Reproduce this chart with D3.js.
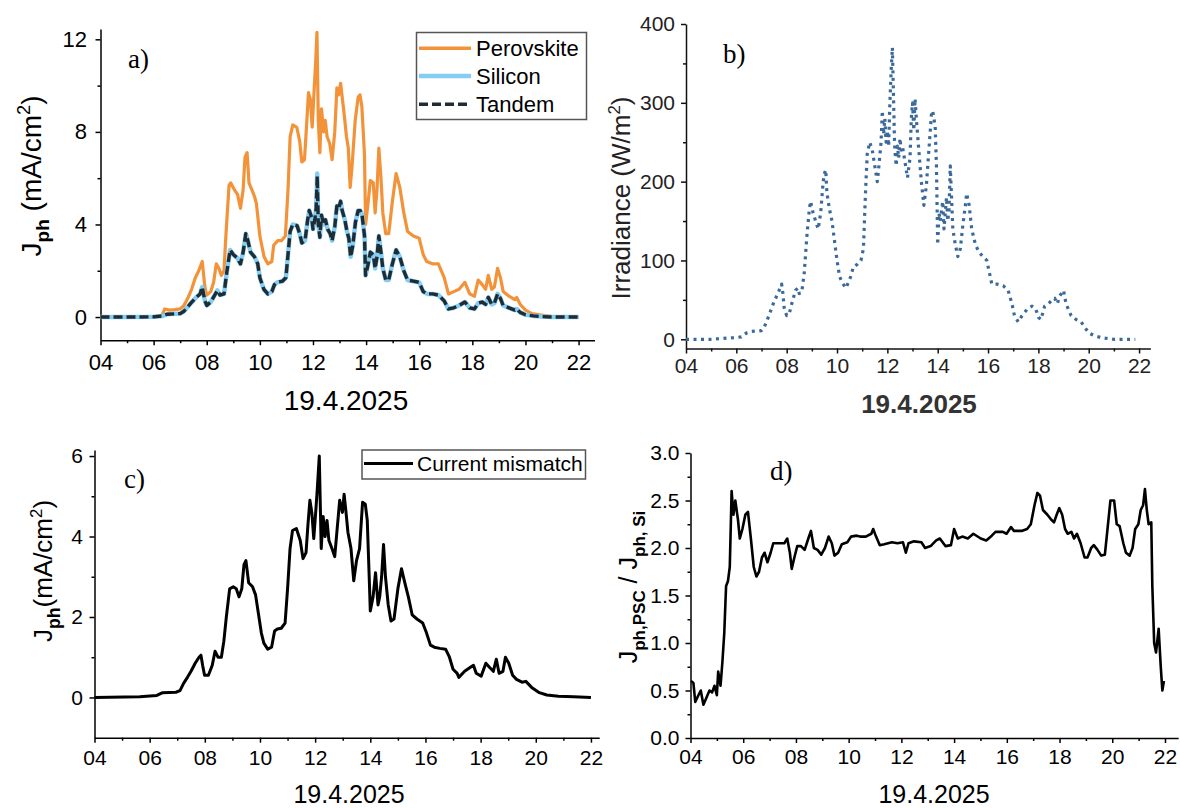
<!DOCTYPE html>
<html>
<head>
<meta charset="utf-8">
<script src="https://cdn.jsdelivr.net/npm/d3@7"></script>
<style>
  html, body { margin: 0; padding: 0; background: #fff; }
  svg { display: block; font-family: "Liberation Sans", Arial, sans-serif; }
</style>
</head>
<body>
<svg id="fig" width="1180" height="808"></svg>
<script>
// ---- Time axis (hours of 19.4.2025) ----
const hourTicks = [4, 6, 8, 10, 12, 14, 16, 18, 20, 22];
const hourLabels = ["04", "06", "08", "10", "12", "14", "16", "18", "20", "22"];
const hourMinor = [5, 7, 9, 11, 13, 15, 17, 19, 21];

// ---- a) photocurrent density, mA/cm2 : [hour, value] ----
const perovskite = [[4,0],[5,0],[6,0.02],[6.3,0.05],[6.42,0.35],[6.6,0.3],[6.8,0.32],[7.0,0.35],[7.14,0.5],[7.3,0.85],[7.43,1.2],[7.57,1.7],[7.7,2.0],[7.83,2.4],[7.93,1.3],[8.0,0.95],[8.15,1.1],[8.26,1.5],[8.36,2.3],[8.46,2.1],[8.55,1.8],[8.65,2.0],[8.72,3.5],[8.84,5.7],[8.9,5.8],[9.04,5.5],[9.16,5.3],[9.27,4.7],[9.37,5.5],[9.44,6.9],[9.52,7.1],[9.59,5.8],[9.7,5.5],[9.8,5.2],[9.87,4.9],[10.0,3.5],[10.16,2.6],[10.3,2.3],[10.45,2.4],[10.52,3.1],[10.67,3.3],[10.81,3.3],[10.96,3.5],[11.06,5.5],[11.14,7.8],[11.24,8.3],[11.39,8.2],[11.5,7.6],[11.58,6.7],[11.68,6.8],[11.76,8.3],[11.83,9.7],[11.9,9.4],[11.97,8.2],[12.03,9.5],[12.1,11.0],[12.15,12.3],[12.2,8.5],[12.26,7.1],[12.32,9.0],[12.4,8.0],[12.46,8.5],[12.53,7.8],[12.63,7.5],[12.72,6.8],[12.82,8.0],[12.9,9.9],[12.97,9.6],[13.04,10.1],[13.11,9.4],[13.19,8.6],[13.26,7.8],[13.33,7.3],[13.4,5.6],[13.47,6.5],[13.59,8.5],[13.7,9.5],[13.77,9.6],[13.84,9.1],[13.94,7.0],[13.98,4.0],[14.08,5.0],[14.16,5.9],[14.27,5.8],[14.34,4.5],[14.41,5.5],[14.48,7.3],[14.56,6.0],[14.63,4.5],[14.74,3.6],[14.85,3.6],[14.99,5.0],[15.13,6.2],[15.27,5.6],[15.42,4.5],[15.56,3.7],[15.78,3.5],[16.0,3.4],[16.15,2.7],[16.28,2.4],[16.5,2.3],[16.72,2.3],[16.94,1.7],[17.1,1.0],[17.3,1.1],[17.5,1.2],[17.72,1.5],[17.9,1.0],[18.08,0.9],[18.22,1.6],[18.37,1.4],[18.5,1.2],[18.6,1.8],[18.73,1.2],[18.83,1.3],[18.95,2.1],[19.06,1.7],[19.16,1.1],[19.38,0.9],[19.6,0.75],[19.67,0.85],[19.8,0.55],[20.0,0.3],[20.24,0.15],[20.53,0.1],[20.96,0.03],[21.4,0],[22,0]];

const silicon = [[4,0],[5,0],[6,0.01],[6.35,0.05],[6.5,0.12],[6.8,0.14],[7.0,0.15],[7.14,0.25],[7.4,0.6],[7.6,0.85],[7.75,1.0],[7.83,1.3],[7.93,0.7],[8.0,0.5],[8.15,0.65],[8.3,0.95],[8.4,1.15],[8.5,0.95],[8.65,1.0],[8.75,1.9],[8.88,2.9],[9.0,2.7],[9.15,2.55],[9.27,2.3],[9.37,2.8],[9.47,3.6],[9.55,3.3],[9.65,2.8],[9.8,2.6],[9.92,2.3],[10.0,1.7],[10.15,1.2],[10.3,1.0],[10.45,1.1],[10.55,1.4],[10.65,1.5],[10.85,1.55],[10.98,1.7],[11.06,2.7],[11.14,3.7],[11.24,4.0],[11.4,3.95],[11.5,3.6],[11.58,3.2],[11.7,3.3],[11.8,4.2],[11.86,4.6],[11.95,4.3],[12.0,3.8],[12.07,4.2],[12.12,4.7],[12.16,6.2],[12.2,4.0],[12.26,3.45],[12.32,4.4],[12.4,4.0],[12.47,4.2],[12.55,3.8],[12.65,3.6],[12.72,3.3],[12.82,3.9],[12.9,4.8],[12.97,4.7],[13.04,5.0],[13.1,4.6],[13.2,4.2],[13.28,3.7],[13.35,3.4],[13.42,2.6],[13.5,3.1],[13.6,4.1],[13.7,4.6],[13.78,4.6],[13.85,4.4],[13.94,3.5],[13.98,1.8],[14.08,2.3],[14.16,2.8],[14.27,2.7],[14.34,2.1],[14.41,2.6],[14.48,3.5],[14.56,2.8],[14.63,2.1],[14.74,1.6],[14.85,1.6],[14.99,2.3],[15.13,2.9],[15.27,2.6],[15.42,2.0],[15.56,1.6],[15.78,1.55],[16.0,1.5],[16.15,1.1],[16.3,1.0],[16.5,1.0],[16.72,0.95],[16.94,0.7],[17.1,0.35],[17.3,0.4],[17.5,0.5],[17.72,0.65],[17.9,0.4],[18.08,0.35],[18.22,0.6],[18.37,0.65],[18.5,0.55],[18.6,0.85],[18.73,0.55],[18.83,0.6],[18.95,1.0],[19.06,0.8],[19.16,0.5],[19.38,0.4],[19.6,0.3],[19.67,0.35],[19.8,0.2],[20.0,0.1],[20.3,0.05],[20.6,0.02],[21,0],[22,0]];

const tandem = [[4,0],[5,0],[6,0.01],[6.35,0.05],[6.5,0.12],[6.8,0.14],[7.0,0.15],[7.14,0.25],[7.4,0.6],[7.6,0.85],[7.75,1.0],[7.83,1.3],[7.93,0.7],[8.0,0.5],[8.15,0.65],[8.3,0.95],[8.4,1.15],[8.5,0.95],[8.65,1.0],[8.75,1.9],[8.88,2.9],[9.0,2.7],[9.15,2.55],[9.27,2.3],[9.37,2.8],[9.47,3.6],[9.55,3.3],[9.65,2.8],[9.8,2.6],[9.92,2.3],[10.0,1.7],[10.15,1.2],[10.3,1.0],[10.45,1.1],[10.55,1.4],[10.65,1.5],[10.85,1.55],[10.98,1.7],[11.06,2.7],[11.14,3.7],[11.24,4.0],[11.4,3.95],[11.5,3.6],[11.58,3.2],[11.7,3.3],[11.8,4.2],[11.86,4.6],[11.95,4.3],[12.0,3.8],[12.07,4.2],[12.12,4.7],[12.16,6.1],[12.2,4.0],[12.26,3.45],[12.32,4.4],[12.4,4.0],[12.47,4.2],[12.55,3.8],[12.65,3.6],[12.72,3.3],[12.82,3.9],[12.9,4.8],[12.97,4.7],[13.04,5.0],[13.1,4.6],[13.2,4.2],[13.28,3.7],[13.35,3.4],[13.42,2.6],[13.5,3.1],[13.6,4.1],[13.7,4.6],[13.78,4.6],[13.85,4.4],[13.94,3.5],[13.98,1.8],[14.08,2.3],[14.16,2.8],[14.27,2.7],[14.34,2.1],[14.41,2.6],[14.48,3.5],[14.56,2.8],[14.63,2.1],[14.74,1.6],[14.85,1.6],[14.99,2.3],[15.13,2.9],[15.27,2.6],[15.42,2.0],[15.56,1.6],[15.78,1.55],[16.0,1.5],[16.15,1.1],[16.3,1.0],[16.5,1.0],[16.72,0.95],[16.94,0.7],[17.1,0.35],[17.3,0.4],[17.5,0.5],[17.72,0.65],[17.9,0.4],[18.08,0.35],[18.22,0.6],[18.37,0.65],[18.5,0.55],[18.6,0.85],[18.73,0.55],[18.83,0.6],[18.95,1.0],[19.06,0.8],[19.16,0.5],[19.38,0.4],[19.6,0.3],[19.67,0.35],[19.8,0.2],[20.0,0.1],[20.3,0.05],[20.6,0.02],[21,0],[22,0]];

// ---- b) irradiance, W/m2 ----
const irradiance = [[4,0],[5,0],[5.9,2],[6.2,3],[6.4,8],[6.6,10],[7.0,11],[7.1,15],[7.2,22],[7.35,35],[7.5,48],[7.65,58],[7.75,66],[7.8,70],[7.85,58],[7.9,40],[8.0,30],[8.1,32],[8.2,45],[8.35,62],[8.45,65],[8.5,58],[8.6,60],[8.7,85],[8.8,130],[8.9,165],[8.95,175],[9.05,160],[9.15,150],[9.25,140],[9.35,160],[9.45,200],[9.5,210],[9.55,215],[9.6,185],[9.7,165],[9.8,150],[9.9,125],[10.0,100],[10.1,80],[10.2,72],[10.35,65],[10.45,72],[10.55,80],[10.65,92],[10.8,95],[10.95,100],[11.05,115],[11.1,160],[11.15,200],[11.2,235],[11.3,250],[11.4,240],[11.5,220],[11.6,200],[11.65,215],[11.75,250],[11.8,290],[11.85,260],[11.9,280],[11.95,250],[12.0,265],[12.05,245],[12.1,300],[12.15,340],[12.2,370],[12.25,300],[12.28,255],[12.3,240],[12.35,220],[12.4,245],[12.45,230],[12.5,255],[12.55,240],[12.6,245],[12.7,225],[12.8,205],[12.9,230],[12.95,280],[13.0,300],[13.05,265],[13.1,305],[13.15,280],[13.25,240],[13.35,200],[13.45,170],[13.55,195],[13.65,240],[13.75,285],[13.8,290],[13.9,270],[13.95,220],[14.0,120],[14.05,160],[14.1,150],[14.2,175],[14.25,140],[14.35,180],[14.4,150],[14.45,165],[14.5,220],[14.55,180],[14.6,140],[14.7,120],[14.8,105],[14.9,115],[15.0,145],[15.1,170],[15.15,185],[15.25,170],[15.35,140],[15.5,120],[15.65,110],[15.8,105],[15.95,100],[16.05,85],[16.15,70],[16.35,70],[16.6,68],[16.8,62],[16.95,45],[17.05,30],[17.2,22],[17.35,30],[17.55,38],[17.75,42],[17.9,38],[18.0,28],[18.1,25],[18.25,42],[18.4,45],[18.55,50],[18.65,52],[18.75,45],[18.85,55],[19.0,62],[19.1,45],[19.3,30],[19.5,25],[19.7,22],[19.85,15],[20.0,8],[20.2,5],[20.5,2],[21.0,0],[21.85,0]];

// ---- c) current mismatch, mA/cm2 ----
const mismatch = [[4,0],[5.64,0.02],[6.26,0.05],[6.47,0.12],[6.95,0.13],[7.1,0.17],[7.23,0.35],[7.37,0.5],[7.5,0.65],[7.65,0.85],[7.79,1.0],[7.86,1.05],[7.92,0.8],[7.99,0.55],[8.13,0.55],[8.27,0.8],[8.37,1.15],[8.48,1.0],[8.6,1.0],[8.69,1.4],[8.78,2.0],[8.9,2.7],[9.03,2.75],[9.14,2.7],[9.24,2.5],[9.34,2.7],[9.42,3.3],[9.49,3.4],[9.59,2.85],[9.73,2.75],[9.84,2.55],[9.94,2.1],[10.05,1.6],[10.14,1.35],[10.28,1.2],[10.42,1.25],[10.53,1.65],[10.63,1.7],[10.77,1.72],[10.91,1.85],[11.0,2.7],[11.09,3.7],[11.18,4.15],[11.32,4.2],[11.46,3.9],[11.56,3.45],[11.67,3.6],[11.74,4.3],[11.81,4.9],[11.88,4.6],[11.95,3.95],[12.02,4.6],[12.08,5.2],[12.15,6.0],[12.22,3.7],[12.29,4.5],[12.36,4.0],[12.43,4.4],[12.5,3.9],[12.61,3.7],[12.71,3.5],[12.8,4.2],[12.89,4.9],[12.99,4.6],[13.05,5.05],[13.12,4.6],[13.19,4.1],[13.3,3.7],[13.4,2.9],[13.5,3.4],[13.61,3.7],[13.72,4.85],[13.82,4.8],[13.89,4.4],[13.96,3.0],[14.0,2.15],[14.1,2.5],[14.19,3.1],[14.28,2.3],[14.34,2.5],[14.41,3.0],[14.48,3.8],[14.55,3.0],[14.65,2.3],[14.75,1.9],[14.86,1.95],[15.0,2.7],[15.13,3.2],[15.27,2.8],[15.38,2.5],[15.52,2.05],[15.69,1.95],[15.9,1.85],[16.04,1.6],[16.18,1.3],[16.32,1.25],[16.52,1.22],[16.73,1.2],[16.87,1.0],[17.0,0.7],[17.15,0.6],[17.21,0.5],[17.42,0.65],[17.63,0.75],[17.74,0.8],[17.84,0.6],[18.02,0.53],[18.19,0.85],[18.32,0.75],[18.46,0.65],[18.57,0.95],[18.67,0.6],[18.81,0.65],[18.9,1.0],[19.02,0.85],[19.16,0.55],[19.3,0.45],[19.5,0.38],[19.64,0.4],[19.85,0.25],[20.13,0.12],[20.4,0.06],[20.82,0.03],[21.37,0.02],[22,0]];

// ---- d) current ratio perovskite / silicon ----
const ratio = [[4.02,0.6],[4.11,0.58],[4.18,0.38],[4.3,0.45],[4.39,0.5],[4.49,0.35],[4.6,0.42],[4.72,0.5],[4.82,0.48],[4.91,0.55],[5.0,0.45],[5.05,0.7],[5.14,0.55],[5.21,0.8],[5.28,1.1],[5.35,1.6],[5.42,1.65],[5.49,1.8],[5.56,2.6],[5.63,2.35],[5.7,2.5],[5.8,2.3],[5.87,2.1],[5.97,2.2],[6.08,2.35],[6.18,2.38],[6.29,2.1],[6.4,1.8],[6.5,1.7],[6.6,1.75],[6.71,1.9],[6.81,1.95],[6.92,1.85],[7.04,1.95],[7.14,2.05],[7.28,2.05],[7.42,2.05],[7.56,2.05],[7.67,2.1],[7.77,1.95],[7.84,1.78],[7.94,1.9],[8.05,2.02],[8.19,2.02],[8.33,1.98],[8.47,2.1],[8.57,2.18],[8.68,2.0],[8.82,1.98],[8.96,1.93],[9.1,2.0],[9.24,2.12],[9.36,2.05],[9.46,1.92],[9.6,1.95],[9.74,2.04],[9.95,2.06],[10.09,2.12],[10.3,2.13],[10.44,2.12],[10.65,2.12],[10.86,2.15],[10.93,2.2],[11.04,2.12],[11.18,2.03],[11.35,2.04],[11.64,2.06],[11.85,2.05],[12.06,2.06],[12.17,1.95],[12.27,2.05],[12.48,2.07],[12.76,2.06],[12.9,2.0],[13.11,2.02],[13.32,2.08],[13.46,2.1],[13.67,2.02],[13.88,2.03],[14.0,2.2],[14.14,2.1],[14.31,2.12],[14.52,2.1],[14.73,2.15],[15.01,2.1],[15.22,2.08],[15.43,2.13],[15.57,2.17],[15.85,2.17],[15.99,2.15],[16.16,2.22],[16.27,2.18],[16.56,2.18],[16.77,2.2],[16.91,2.25],[17.05,2.45],[17.16,2.58],[17.26,2.55],[17.37,2.4],[17.54,2.35],[17.68,2.3],[17.79,2.27],[17.89,2.35],[17.99,2.42],[18.1,2.35],[18.21,2.2],[18.31,2.15],[18.45,2.17],[18.55,2.1],[18.66,2.15],[18.8,2.05],[18.95,1.9],[19.06,1.9],[19.2,2.0],[19.3,2.03],[19.44,1.98],[19.58,1.92],[19.72,1.93],[19.82,2.2],[19.93,2.5],[20.07,2.5],[20.17,2.25],[20.28,2.23],[20.42,2.05],[20.52,1.95],[20.66,1.92],[20.77,2.0],[20.87,2.2],[20.99,2.25],[21.08,2.4],[21.17,2.45],[21.24,2.62],[21.31,2.4],[21.38,2.25],[21.48,2.27],[21.52,1.6],[21.59,1.0],[21.66,0.9],[21.76,1.15],[21.84,0.75],[21.9,0.5],[21.96,0.6]];

// ---- y-axis ticks per panel ----
const jphTicksA = [0, 4, 8, 12], jphMinorA = [2, 6, 10];
const irrTicks = [0, 100, 200, 300, 400], irrMinor = [50, 150, 250, 350];
const jphTicksC = [0, 2, 4, 6], jphMinorC = [1, 3, 5];
const ratioTicks = [0, 0.5, 1, 1.5, 2, 2.5, 3], ratioMinor = [0.25, 0.75, 1.25, 1.75, 2.25, 2.75];

const svg = d3.select("#fig");
const SANS = '"Liberation Sans", Arial, sans-serif';
const SERIF = '"Liberation Serif", "Times New Roman", serif';

// Build one panel: scales, axes with major/minor ticks, returns scales.
function panel(o) {
  const x = d3.scaleLinear().domain(o.xDomain).range(o.xRange);
  const y = d3.scaleLinear().domain(o.yDomain).range(o.yRange);
  const g = svg.append("g");
  const axisY0 = o.yRange[0], axisX0 = o.xRange[0];

  const style = sel => {
    sel.selectAll("path, line").attr("stroke", o.axisColor).attr("stroke-width", 1.5);
    sel.selectAll("text").attr("fill", o.textColor).style("font-family", SANS).style("font-size", o.tickFont + "px");
  };

  g.append("g").attr("transform", `translate(0,${axisY0})`)
    .call(d3.axisBottom(x).tickValues(hourMinor).tickSize(3).tickSizeOuter(0).tickFormat(""))
    .call(s => s.select(".domain").remove()).call(style);
  g.append("g").attr("transform", `translate(0,${axisY0})`)
    .call(d3.axisBottom(x).tickValues(hourTicks).tickSize(5).tickSizeOuter(0).tickPadding(o.xPad)
      .tickFormat((d, i) => hourLabels[i]))
    .call(style);

  g.append("g").attr("transform", `translate(${axisX0},0)`)
    .call(d3.axisLeft(y).tickValues(o.yMinor).tickSize(3).tickSizeOuter(0).tickFormat(""))
    .call(s => s.select(".domain").remove()).call(style);
  g.append("g").attr("transform", `translate(${axisX0},0)`)
    .call(d3.axisLeft(y).tickValues(o.yTicks).tickSize(5).tickSizeOuter(0).tickPadding(o.yPad)
      .tickFormat(o.yFormat))
    .call(style);

  return { x, y, g };
}

function drawLine(p, data, attrs) {
  const line = d3.line().x(d => p.x(d[0])).y(d => p.y(d[1]));
  const path = p.g.append("path").datum(data).attr("d", line).attr("fill", "none")
    .attr("stroke-linejoin", "round");
  Object.entries(attrs).forEach(([k, v]) => path.attr(k, v));
  return path;
}

// rotated y title made of tspans: [text, kind] with kind "", "sub", "sup"
function yTitle(x, y, size, parts, color, weight) {
  const t = svg.append("text").attr("transform", `translate(${x},${y}) rotate(-90)`)
    .attr("text-anchor", "middle").style("font-family", SANS).style("font-size", size + "px")
    .attr("fill", color).style("font-weight", weight || "normal");
  let shift = 0;
  parts.forEach(([txt, kind]) => {
    const ts = t.append("tspan").text(txt);
    let target = 0;
    if (kind === "sub") { target = size * 0.3; ts.style("font-size", (size * 0.68) + "px").style("font-weight", "bold"); }
    if (kind === "sup") { target = -size * 0.4; ts.style("font-size", (size * 0.65) + "px"); }
    ts.attr("dy", target - shift);
    shift = target;
  });
}

function xTitle(x, y, size, txt, color, weight) {
  svg.append("text").attr("x", x).attr("y", y).attr("text-anchor", "middle")
    .style("font-family", SANS).style("font-size", size + "px").style("font-weight", weight || "normal")
    .attr("fill", color).text(txt);
}

function tag(x, y, txt) {
  svg.append("text").attr("x", x).attr("y", y).style("font-family", SERIF).style("font-size", "27px")
    .attr("fill", "#000").text(txt);
}

// ================= a) =================
const pa = panel({
  xDomain: [4, 22.6], xRange: [100.5, 100.5 + 18.6 * 26.56],
  yDomain: [-1, 12.45], yRange: [340.2, 28.9],
  yTicks: jphTicksA, yMinor: jphMinorA, yFormat: d3.format("d"),
  tickFont: 22, xPad: 9, yPad: 8.5, axisColor: "#000", textColor: "#000"
});
const ORANGE = "#f39339", BLUE = "#84cdf3", DARK = "#1f2c34";
drawLine(pa, perovskite, { stroke: ORANGE, "stroke-width": 3.2 });
drawLine(pa, silicon, { stroke: BLUE, "stroke-width": 4.5 });
drawLine(pa, tandem, { stroke: DARK, "stroke-width": 3.4, "stroke-dasharray": "9,4" });

// legend a)
const legA = svg.append("g");
legA.append("rect").attr("x", 416.5).attr("y", 32.5).attr("width", 170).attr("height", 87)
  .attr("fill", "#fff").attr("stroke", "#555").attr("stroke-width", 1.5);
[["Perovskite", { stroke: ORANGE, "stroke-width": 3.5 }, 48.3],
 ["Silicon", { stroke: BLUE, "stroke-width": 4.5 }, 76],
 ["Tandem", { stroke: DARK, "stroke-width": 3.5, "stroke-dasharray": "9,4" }, 104.3]]
  .forEach(([name, st, yy]) => {
    const l = legA.append("line").attr("x1", 419).attr("x2", 471).attr("y1", yy).attr("y2", yy);
    Object.entries(st).forEach(([k, v]) => l.attr(k, v));
    legA.append("text").attr("x", 476).attr("y", yy + 8).style("font-family", SANS)
      .style("font-size", "22px").attr("fill", "#000").text(name);
  });

yTitle(41, 176, 28, [["J", ""], ["ph", "sub"], ["\u00a0(mA/cm", ""], ["2", "sup"], [")", ""]], "#000");
xTitle(346, 410, 28, "19.4.2025", "#000");
tag(128, 68, "a)");

// ================= b) =================
const pb = panel({
  xDomain: [4, 22.45], xRange: [686, 686 + 18.45 * 25.17],
  yDomain: [-11.7, 400], yRange: [348.5, 24],
  yTicks: irrTicks, yMinor: irrMinor, yFormat: d3.format("d"),
  tickFont: 21, xPad: 5, yPad: 6, axisColor: "#111", textColor: "#222"
});
drawLine(pb, irradiance, { stroke: "#3b6a9a", "stroke-width": 3.2, "stroke-dasharray": "3,4.5" });
yTitle(630, 198, 26, [["Irradiance (W/m", ""], ["2", "sup"], [")", ""]], "#222");
xTitle(919, 413, 26, "19.4.2025", "#333", "bold");
tag(723, 63, "b)");

// ================= c) =================
const pc = panel({
  xDomain: [4, 22.3], xRange: [94.5, 94.5 + 18.3 * 27.58],
  yDomain: [-1, 6.15], yRange: [737.7, 450],
  yTicks: jphTicksC, yMinor: jphMinorC, yFormat: d3.format("d"),
  tickFont: 21, xPad: 7, yPad: 6.5, axisColor: "#000", textColor: "#000"
});
drawLine(pc, mismatch, { stroke: "#000", "stroke-width": 3 });

const legC = svg.append("g");
legC.append("rect").attr("x", 362).attr("y", 450).attr("width", 223.5).attr("height", 29)
  .attr("fill", "#fff").attr("stroke", "#555").attr("stroke-width", 1.5);
legC.append("line").attr("x1", 364).attr("x2", 413).attr("y1", 463.5).attr("y2", 463.5)
  .attr("stroke", "#000").attr("stroke-width", 3);
legC.append("text").attr("x", 417).attr("y", 471).style("font-family", SANS)
  .style("font-size", "21px").attr("fill", "#000").text("Current mismatch");

yTitle(52, 571, 26, [["J", ""], ["ph", "sub"], ["(mA/cm", ""], ["2", "sup"], [")", ""]], "#000");
xTitle(349, 803, 25, "19.4.2025", "#000");
tag(124, 488, "c)");

// ================= d) =================
const pd = panel({
  xDomain: [4, 22.5], xRange: [690.5, 690.5 + 18.5 * 26.36],
  yDomain: [0, 3], yRange: [738, 453],
  yTicks: ratioTicks, yMinor: ratioMinor, yFormat: d3.format(".1f"),
  tickFont: 21, xPad: 6, yPad: 6, axisColor: "#000", textColor: "#000"
});
drawLine(pd, ratio, { stroke: "#000", "stroke-width": 2.6 });
yTitle(637, 587, 25, [["J", ""], ["ph,PSC", "sub"], ["\u00a0/\u00a0J", ""], ["ph, Si", "sub"]], "#000");
xTitle(934, 803, 25, "19.4.2025", "#000");
tag(770, 480, "d)");
</script>
</body>
</html>
